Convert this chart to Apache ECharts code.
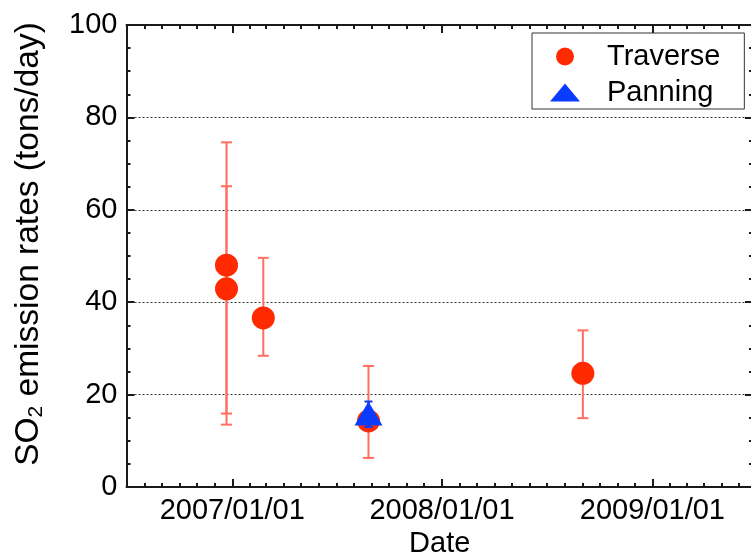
<!DOCTYPE html>
<html>
<head>
<meta charset="utf-8">
<script src="https://cdn.jsdelivr.net/npm/echarts@6/dist/echarts.min.js"></script>
<style>html,body{margin:0;padding:0;background:#fff}#c{width:751px;height:554px}</style>
</head>
<body>
<div id="c"></div>
<script>
// ---- data ----
const traverseDates = ['2006-12-22', '2006-12-22', '2007-02-24', '2007-08-26', '2008-09-02'];
const traverseValues = [48.0, 42.9, 36.6, 14.3, 24.6];
const traverseLow = [13.5, 15.9, 28.4, 6.3, 14.9];
const traverseHigh = [74.6, 65.1, 49.6, 26.2, 33.9];

const panningDates = ['2007-08-26'];
const panningValues = [15.9];
const panningLow = [13.0];
const panningHigh = [18.5];

const yearTicks = ['2007-01-01', '2008-01-01', '2009-01-01'];
const xStart = '2006-07-01';
const xEnd = '2009-06-25';

// ---- helpers ----
function t(s) { const p = s.split('-').map(Number); return Date.UTC(p[0], p[1] - 1, p[2]); }
function fmt(v) {
  const d = new Date(v);
  const mm = String(d.getUTCMonth() + 1).padStart(2, '0');
  const dd = String(d.getUTCDate()).padStart(2, '0');
  return d.getUTCFullYear() + '/' + mm + '/' + dd;
}
const xMin = t(xStart), xMax = t(xEnd);
const yearTickVals = yearTicks.map(t);
const monthTickVals = [];
for (let y = 2006; y <= 2009; y++) {
  for (let m = 0; m < 12; m++) {
    const v = Date.UTC(y, m, 1);
    if (v > xMin && v < xMax) monthTickVals.push(v);
  }
}

const FONT = 'Liberation Sans, Arial, sans-serif';
const FS = 29;
const AXC = '#1a1a1a';
const RED = '#ff2a00';
const RED_BAR = '#ff6e60';
const BLUE = '#0a3cff';

const travPts = traverseDates.map((d, i) => [t(d), traverseValues[i]]);
const travErr = traverseDates.map((d, i) => [t(d), traverseLow[i], traverseHigh[i]]);
const panPts = panningDates.map((d, i) => [t(d), panningValues[i]]);
const panErr = panningDates.map((d, i) => [t(d), panningLow[i], panningHigh[i]]);

function errRender(color, cap) {
  return function (params, api) {
    const x = api.value(0);
    const lo = api.coord([x, api.value(1)]);
    const hi = api.coord([x, api.value(2)]);
    const st = { stroke: color, lineWidth: 2 };
    return {
      type: 'group',
      children: [
        { type: 'line', shape: { x1: lo[0], y1: lo[1], x2: hi[0], y2: hi[1] }, style: st },
        { type: 'line', shape: { x1: lo[0] - cap, y1: lo[1], x2: lo[0] + cap, y2: lo[1] }, style: st },
        { type: 'line', shape: { x1: hi[0] - cap, y1: hi[1], x2: hi[0] + cap, y2: hi[1] }, style: st }
      ]
    };
  };
}

function xAx(pos, major, show) {
  return {
    type: 'value', position: pos, min: xMin, max: xMax, gridIndex: 0, scale: true,
    axisLine: { show: major, onZero: false, lineStyle: { color: AXC, width: 2 } },
    axisTick: { show: true, inside: true, length: major ? 8 : 4,
      customValues: major ? yearTickVals : monthTickVals,
      lineStyle: { color: AXC, width: 2 } },
    axisLabel: { show: show, customValues: yearTickVals, formatter: fmt,
      fontSize: FS, fontFamily: FONT, color: '#000', margin: 9 },
    splitLine: { show: false },
    name: show ? 'Date' : '', nameLocation: 'middle', nameGap: 41,
    nameTextStyle: { fontSize: FS, fontFamily: FONT, color: '#000' }
  };
}

function yAx(pos, show) {
  return {
    type: 'value', position: pos, min: 0, max: 100, interval: 20,
    axisLine: { show: true, lineStyle: { color: AXC, width: 2 } },
    axisTick: { show: true, inside: true, length: 8, lineStyle: { color: AXC, width: 2 } },
    minorTick: { show: true, splitNumber: 4, length: 4, lineStyle: { color: AXC, width: 2 } },
    axisLabel: { show: show, fontSize: FS, fontFamily: FONT, color: '#000', margin: 9 },
    splitLine: { show: show, lineStyle: { color: '#333', width: 1, type: [2, 2] } },
    name: show ? '{a|SO}{s|2}{a| emission rates (tons/day)}' : '',
    nameLocation: 'middle', nameGap: 80, nameRotate: 90,
    nameTextStyle: {
      fontFamily: FONT, color: '#000', padding: [0, 0, 0, 24],
      rich: {
        a: { fontSize: 33.5, fontFamily: FONT, color: '#000' },
        s: { fontSize: 21, fontFamily: FONT, color: '#000', padding: [14, 0, 0, 0] }
      }
    }
  };
}

const chart = echarts.init(document.getElementById('c'), null, { renderer: 'canvas' });
chart.setOption({
  animation: false,
  backgroundColor: '#fff',
  grid: { left: 126.5, right: -2, top: 25, bottom: 67, containLabel: false, outerBoundsMode: 'none' },
  legend: {
    orient: 'vertical', left: 532, top: 33,
    padding: [8, 24, 1, 18],
    itemWidth: 30, itemHeight: 18, itemGap: 5,
    borderColor: '#333', borderWidth: 1, backgroundColor: '#fff',
    textStyle: { fontSize: FS, fontFamily: FONT, color: '#000', padding: [0, 0, 0, 22], lineHeight: 31 },
    data: ['Traverse', 'Panning']
  },
  xAxis: [xAx('bottom', true, true), xAx('bottom', false, false), xAx('top', true, false), xAx('top', false, false)],
  yAxis: [yAx('left', true), yAx('right', false)],
  series: [
    { type: 'custom', name: 'TraverseErr', xAxisIndex: 0, yAxisIndex: 0, z: 2,
      renderItem: errRender(RED_BAR, 5.5), encode: { x: 0, y: [1, 2] }, data: travErr },
    { type: 'scatter', name: 'Traverse', xAxisIndex: 0, yAxisIndex: 0, z: 3,
      symbol: 'circle', symbolSize: 23, itemStyle: { color: RED, opacity: 1 }, data: travPts },
    { type: 'scatter', name: 'Panning', xAxisIndex: 0, yAxisIndex: 0, z: 4,
      symbol: 'triangle', symbolSize: [28, 24], itemStyle: { color: BLUE, opacity: 1 }, data: panPts },
    { type: 'custom', name: 'PanningErr', xAxisIndex: 0, yAxisIndex: 0, z: 5,
      renderItem: errRender(BLUE, 4), encode: { x: 0, y: [1, 2] }, data: panErr }
  ]
});
</script>
</body>
</html>
